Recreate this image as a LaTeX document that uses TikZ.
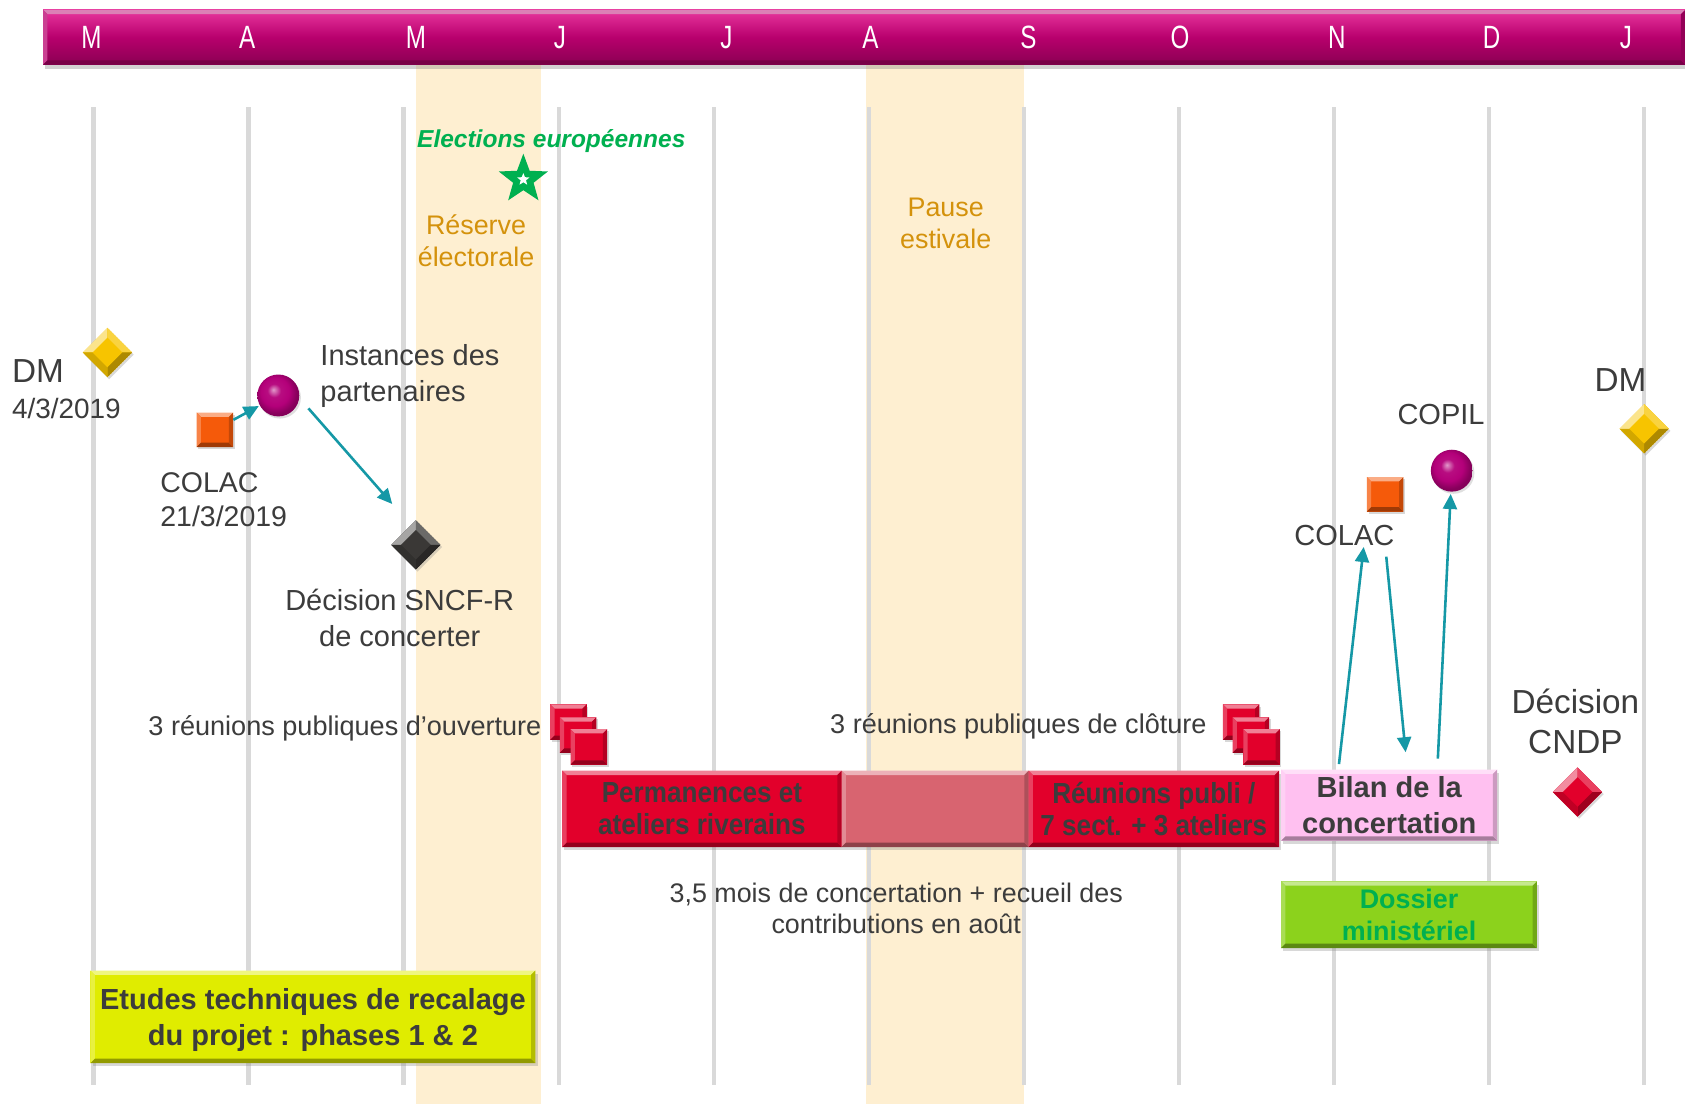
\documentclass[tikz,border=0pt]{standalone}
\usepackage{fontspec}
\setmainfont{Liberation Sans}
\newfontfamily\narrowfont[FakeStretch=0.75]{Liberation Sans}
\newfontfamily\condfont[FakeStretch=0.9]{Liberation Sans}
\usetikzlibrary{shapes.geometric,arrows.meta,shadows,calc}
\definecolor{bartop}{HTML}{E8369E}
\definecolor{barmid}{HTML}{B8006D}
\definecolor{barbot}{HTML}{8A0052}
\definecolor{gridgray}{HTML}{D9D9D9}
\definecolor{beige}{HTML}{FEEFD1}
\definecolor{ochre}{HTML}{D4920C}
\definecolor{elgreen}{HTML}{00B050}
\definecolor{tealarr}{HTML}{1598A6}
\definecolor{txt}{HTML}{3C3C3C}
\definecolor{redm}{HTML}{E2002B}
\definecolor{fadered}{HTML}{D86470}
\definecolor{pinkm}{HTML}{FFC0F0}
\definecolor{greenm}{HTML}{8CD21C}
\definecolor{limem}{HTML}{E0EC00}
\definecolor{orangem}{HTML}{F55A0A}
\definecolor{yellowm}{HTML}{F7C400}
\definecolor{purplem}{HTML}{B4007A}
\definecolor{blackm}{HTML}{3A3836}
\pgfdeclareradialshading{magball}{\pgfpoint{-6bp}{7bp}}{color(0bp)=(purplem!40!white); color(8bp)=(purplem!95!white); color(17bp)=(purplem); color(25bp)=(purplem!75!black); color(50bp)=(purplem!60!black)}
\newcommand\fsz[2]{\fontsize{#1}{#2}\selectfont}
\def\bw{4pt}
\tikzset{
  bevel/.style={path picture={
    \coordinate (pNW) at (path picture bounding box.north west);
    \coordinate (pNE) at (path picture bounding box.north east);
    \coordinate (pSW) at (path picture bounding box.south west);
    \coordinate (pSE) at (path picture bounding box.south east);
    \fill[#1!50!white] (pNW) -- (pNE) -- ([xshift=-\bw,yshift=-\bw]pNE) -- ([xshift=\bw,yshift=-\bw]pNW) -- cycle;
    \fill[#1!75!white] (pNW) -- ([xshift=\bw,yshift=-\bw]pNW) -- ([xshift=\bw,yshift=\bw]pSW) -- (pSW) -- cycle;
    \fill[#1!65!black] (pSW) -- ([xshift=\bw,yshift=\bw]pSW) -- ([xshift=-\bw,yshift=\bw]pSE) -- (pSE) -- cycle;
    \fill[#1!80!black] (pSE) -- ([xshift=-\bw,yshift=\bw]pSE) -- ([xshift=-\bw,yshift=-\bw]pNE) -- (pNE) -- cycle;
  }},
  dbevel/.style={shape=diamond, aspect=1, minimum width=46pt, minimum height=46pt, inner sep=0pt,
    fill=#1, drop shadow={opacity=0.3,shadow xshift=1.5pt,shadow yshift=-2pt},
    path picture={
    \coordinate (dC) at (path picture bounding box.center);
    \coordinate (dN) at (path picture bounding box.north);
    \coordinate (dE) at (path picture bounding box.east);
    \coordinate (dS) at (path picture bounding box.south);
    \coordinate (dW) at (path picture bounding box.west);
    \fill[#1!45!white] (dC) -- (dW) -- (dN) -- cycle;
    \fill[#1!75!white] (dC) -- (dN) -- (dE) -- cycle;
    \fill[#1!70!black] (dC) -- (dE) -- (dS) -- cycle;
    \fill[#1!85!black] (dC) -- (dS) -- (dW) -- cycle;
    \fill[#1] ($(dC)!0.6!(dN)$) -- ($(dC)!0.6!(dE)$) -- ($(dC)!0.6!(dS)$) -- ($(dC)!0.6!(dW)$) -- cycle;
  }},
  boxnode/.style={rectangle, anchor=north west, inner sep=0pt, fill=#1, bevel=#1, text depth=0pt,
    drop shadow={opacity=0.3,shadow xshift=2pt,shadow yshift=-3pt}, align=center, text=txt},
  sqnode/.style={rectangle, inner sep=0pt, minimum width=34pt, minimum height=33pt, fill=#1, bevel=#1,
    drop shadow={opacity=0.3,shadow xshift=1.5pt,shadow yshift=-2pt}},
  ballnode/.style={circle, inner sep=0pt, minimum size=39pt, shading=magball,
    drop shadow={opacity=0.25,shadow xshift=1.5pt,shadow yshift=-2pt}},
  lbl/.style={inner sep=0pt, text=txt, align=center},
  month/.style={inner sep=0pt, text=white, font=\narrowfont\fsz{30}{32}},
  gridline/.style={draw=gridgray, line width=4pt},
  arr/.style={draw=tealarr, line width=2.4pt, -{Triangle[length=14pt,width=13pt]}},
}
\begin{document}
\begin{tikzpicture}[x=1pt,y=-1pt]
\useasboundingbox (0,0) rectangle (1568,1027);
\fill[white] (0,0) rectangle (1568,1027);
% shaded periods
\fill[beige] (387,60) rectangle (503,1027);
\fill[beige] (806,60) rectangle (953,1027);
% month grid
\foreach \i in {0,...,10} \draw[gridline] ({87+144.3*\i},100) -- ({87+144.3*\i},1010);
% top bar
\node[rectangle, anchor=north west, inner sep=0pt, minimum width=1528pt, minimum height=51pt,
  top color=bartop, bottom color=barbot, middle color=barmid, bevel=barmid,
  drop shadow={opacity=0.35,shadow xshift=2pt,shadow yshift=-4pt}] (bar) at (40,9) {};
\node[month] (m1) at (85,35) {M};
\node[month] (m2) at (230,35) {A};
\node[month] (m3) at (387,35) {M};
\node[month] (m4) at (521,35) {J};
\node[month] (m5) at (676,35) {J};
\node[month] (m6) at (810,35) {A};
\node[month] (m7) at (957,35) {S};
\node[month] (m8) at (1098,35) {O};
\node[month] (m9) at (1244,35) {N};
\node[month] (m10) at (1388,35) {D};
\node[month] (m11) at (1513,35) {J};
% elections
\node[inner sep=0pt, text=elgreen, font=\fsz{22.8}{26}\bfseries\itshape] (elec) at (513,131) {Elections européennes};
\node[star, star points=5, star point ratio=2.4, fill=elgreen, minimum size=48pt, inner sep=0pt] (star) at (487,167) {};
\node[star, star points=5, star point ratio=2.3, fill=white, minimum size=12pt, inner sep=0pt] (starin) at (star.center) {};
\node[lbl, text=ochre, font=\fsz{25}{30}] (reserve) at (443,224) {Réserve\\électorale};
\node[lbl, text=ochre, font=\fsz{25}{30}] (pause) at (880,208) {Pause\\estivale};
% left events
\node[lbl, anchor=west, font=\fsz{31}{34}] (dmL) at (11,345) {DM};
\node[lbl, anchor=west, font=\fsz{26}{30}] (dmLd) at (11,380) {4/3/2019};
\node[dbevel=yellowm] (diaL) at (100,328) {};
\node[sqnode=orangem, minimum height=32pt] (sqL) at (200,400) {};
\node[ballnode] (circL) at (259,368) {};
\node[lbl, anchor=west, align=left, font=\fsz{27}{33}] (inst) at (298,350) {Instances des\\partenaires};
\node[lbl, anchor=west, align=left, font=\fsz{26.5}{32}] (colacL) at (149,465) {COLAC\\21/3/2019};
\node[dbevel=blackm] (diaS) at (387,507) {};
\node[lbl, font=\fsz{27}{34}] (sncf) at (372,575) {Décision SNCF-R\\de concerter};
\coordinate (i1) at (287,380);
\coordinate (i2) at (365,469);
\draw[arr, shorten >=1pt] (sqL) -- (circL);
\draw[arr] (i1) -- (i2);
% public meetings
\node[lbl, anchor=east, font=\fsz{25.2}{30}] (ouv) at (504,678) {3 réunions publiques d’ouverture};
\node[sqnode=redm] (rA1) at (529,672) {};
\node[sqnode=redm] (rA2) at (538,684) {};
\node[sqnode=redm] (rA3) at (548,695) {};
\node[lbl, anchor=east, font=\fsz{25.2}{30}] (clo) at (1123,676) {3 réunions publiques de clôture};
\node[sqnode=redm] (rB1) at (1155,672) {};
\node[sqnode=redm] (rB2) at (1164,684) {};
\node[sqnode=redm] (rB3) at (1174,695) {};
% bars
\node[boxnode=redm, minimum width=260pt, minimum height=71pt, font=\condfont\bfseries\fsz{27}{30}] (perm) at (523,717) {Permanences et\\ateliers riverains};
\node[boxnode=fadered, minimum width=174pt, minimum height=71pt] (fade) at (783,717) {};
\node[boxnode=redm, minimum width=233pt, minimum height=71pt, font=\condfont\bfseries\fsz{27}{30}] (reun) at (957,717) {Réunions publi /\\7 sect. + 3 ateliers};
\node[boxnode=pinkm, minimum width=201pt, minimum height=66pt, font=\bfseries\fsz{27}{33}] (bilan) at (1192,716) {Bilan de la\\concertation};
\node[boxnode=greenm, minimum width=238pt, minimum height=62pt, text=elgreen, font=\bfseries\fsz{25}{29}] (doss) at (1192,820) {Dossier\\ministériel};
\node[lbl, font=\fsz{25}{29}] (mois) at (834,845) {3,5 mois de concertation + recueil des\\contributions en août};
\node[boxnode=limem, minimum width=414pt, minimum height=86pt, font=\bfseries\fsz{27}{33}] (etudes) at (84,903) {Etudes techniques de recalage\\du projet : phases 1 \& 2};
% right events
\node[lbl, font=\fsz{27}{30}] (copil) at (1341,386) {COPIL};
\node[ballnode] (circR) at (1351,438) {};
\node[sqnode=orangem, minimum height=32pt] (sqR) at (1289,460) {};
\node[lbl, font=\fsz{27}{30}] (colacR) at (1251,498) {COLAC};
\node[lbl, font=\fsz{31}{34}] (dmR) at (1508,354) {DM};
\node[dbevel=yellowm] (diaR) at (1530,399) {};
\node[lbl, font=\fsz{31}{37}] (cndp) at (1466,671) {Décision\\CNDP};
\node[dbevel=redm] (diaC) at (1468,737) {};
\coordinate (r1s) at (1246,711);
\coordinate (r1e) at (1269,509);
\coordinate (r2s) at (1290,518);
\coordinate (r2e) at (1308,700);
\coordinate (r3s) at (1338,706);
\draw[arr] (r1s) -- (r1e);
\draw[arr] (r2s) -- (r2e);
\draw[arr, shorten >=2pt] (r3s) -- (circR);
\end{tikzpicture}
\end{document}
